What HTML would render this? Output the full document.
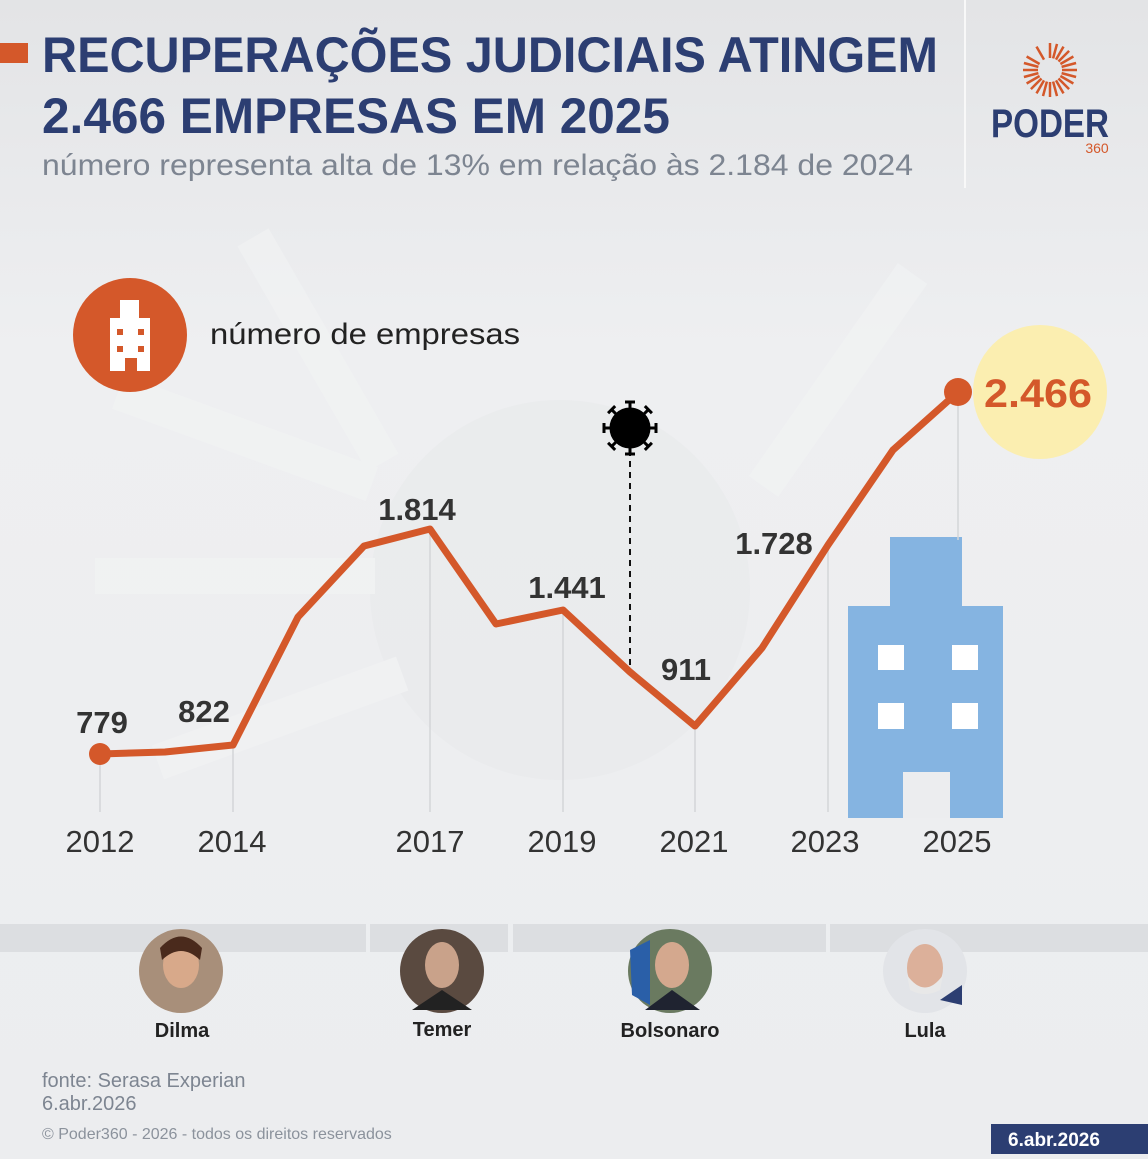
<!DOCTYPE html>
<html><head><meta charset="utf-8"><style>
html,body{margin:0;padding:0;}
body{width:1148px;height:1154px;overflow:hidden;background:#ecedef;font-family:"Liberation Sans",sans-serif;}
</style></head><body>
<svg width="1148" height="1154" viewBox="0 0 1148 1154" xmlns="http://www.w3.org/2000/svg" font-family="Liberation Sans, sans-serif">
<defs>
<linearGradient id="bg" x1="0" y1="0" x2="0" y2="1">
<stop offset="0" stop-color="#e3e4e6"/><stop offset="0.3" stop-color="#eeeff1"/><stop offset="1" stop-color="#ecedef"/>
</linearGradient>
</defs>
<rect width="1148" height="1154" fill="url(#bg)"/>
<!-- faint rays -->
<g fill="#f2f3f4" opacity="0.6">
<circle cx="560" cy="590" r="190" fill="#e8e9eb"/>
<rect x="95" y="558" width="280" height="36"/>
<rect x="110" y="420" width="270" height="36" transform="rotate(20 245 438)"/>
<rect x="300" y="220" width="36" height="260" transform="rotate(-30 318 350)"/>
<rect x="820" y="250" width="36" height="260" transform="rotate(35 838 380)"/>
<rect x="150" y="700" width="260" height="36" transform="rotate(-20 280 718)"/>
</g>
<!-- header -->
<rect x="0" y="43" width="28" height="20" fill="#d4582a"/>
<text x="42" y="72" font-size="50" font-weight="bold" fill="#2c3e72" textLength="896" lengthAdjust="spacingAndGlyphs">RECUPERAÇÕES JUDICIAIS ATINGEM</text>
<text x="42" y="133" font-size="50" font-weight="bold" fill="#2c3e72" textLength="628" lengthAdjust="spacingAndGlyphs">2.466 EMPRESAS EM 2025</text>
<text x="42" y="175" font-size="30" fill="#7d8591" textLength="871" lengthAdjust="spacingAndGlyphs">número representa alta de 13% em relação às 2.184 de 2024</text>
<rect x="964" y="0" width="2" height="188" fill="#f8f8f8"/>
<!-- logo -->
<g transform="translate(1050,70)" stroke="#d4582a" stroke-width="2.5">
<g id="r">
<line x1="0" y1="-12" x2="0" y2="-27"/>
</g>
<use href="#r" transform="rotate(15)"/><use href="#r" transform="rotate(30)"/><use href="#r" transform="rotate(45)"/><use href="#r" transform="rotate(60)"/><use href="#r" transform="rotate(75)"/><use href="#r" transform="rotate(90)"/><use href="#r" transform="rotate(105)"/><use href="#r" transform="rotate(120)"/><use href="#r" transform="rotate(135)"/><use href="#r" transform="rotate(150)"/><use href="#r" transform="rotate(165)"/><use href="#r" transform="rotate(180)"/><use href="#r" transform="rotate(195)"/><use href="#r" transform="rotate(210)"/><use href="#r" transform="rotate(225)"/><use href="#r" transform="rotate(240)"/><use href="#r" transform="rotate(255)"/><use href="#r" transform="rotate(270)"/><use href="#r" transform="rotate(285)"/><use href="#r" transform="rotate(300)"/><use href="#r" transform="rotate(330)"/>
</g>
<text x="1050" y="137" font-size="40" font-weight="bold" fill="#2c3e72" text-anchor="middle" textLength="118" lengthAdjust="spacingAndGlyphs">PODER</text>
<text x="1097" y="153" font-size="14" fill="#d4582a" text-anchor="middle">360</text>
<!-- legend icon -->
<circle cx="130" cy="335" r="57" fill="#d4582a"/>
<rect x="120" y="300" width="19" height="19" fill="#fff"/>
<rect x="110" y="318" width="40" height="53" fill="#fff"/>
<g fill="#d4582a"><rect x="117" y="329" width="6" height="6"/><rect x="138" y="329" width="6" height="6"/><rect x="117" y="346" width="6" height="6"/><rect x="138" y="346" width="6" height="6"/><rect x="125" y="358" width="12" height="13"/></g>
<text x="210" y="344" font-size="30" fill="#222" textLength="310" lengthAdjust="spacingAndGlyphs">número de empresas</text>
<!-- big building -->
<rect x="890" y="537" width="72" height="70" fill="#85b4e1"/>
<rect x="848" y="606" width="155" height="212" fill="#85b4e1"/>
<g fill="#fff"><rect x="878" y="645" width="26" height="25"/><rect x="952" y="645" width="26" height="25"/><rect x="878" y="703" width="26" height="26"/><rect x="952" y="703" width="26" height="26"/></g>
<rect x="903" y="772" width="47" height="46" fill="#ecedef"/>
<!-- grid lines -->
<g stroke="#d3d5d8" stroke-width="1.5">
<line x1="100" y1="754" x2="100" y2="812"/><line x1="233" y1="745" x2="233" y2="812"/><line x1="430" y1="529" x2="430" y2="812"/><line x1="563" y1="610" x2="563" y2="812"/><line x1="695" y1="726" x2="695" y2="812"/><line x1="828" y1="545" x2="828" y2="812"/><line x1="958" y1="392" x2="958" y2="540"/>
</g>
<!-- virus -->
<line x1="630" y1="450" x2="630" y2="672" stroke="#111" stroke-width="2" stroke-dasharray="6,5"/>
<g transform="translate(630,428)" stroke="#000" stroke-width="3">
<circle r="19" fill="#000"/>
<g id="sp"><line x1="0" y1="-19" x2="0" y2="-26"/><line x1="-5" y1="-26" x2="5" y2="-26"/></g>
<use href="#sp" transform="rotate(45)"/><use href="#sp" transform="rotate(90)"/><use href="#sp" transform="rotate(135)"/><use href="#sp" transform="rotate(180)"/><use href="#sp" transform="rotate(225)"/><use href="#sp" transform="rotate(270)"/><use href="#sp" transform="rotate(315)"/>
</g>
<!-- yellow circle -->
<circle cx="1040" cy="392" r="67" fill="#fbeeb0"/>
<!-- line -->
<polyline points="100,754 165,752 233,745 298,617 364,546 430,529 496,624 563,610 630,672 695,726 762,648 828,545 893,450 958,392" fill="none" stroke="#d4582a" stroke-width="7" stroke-linejoin="round" stroke-linecap="round"/>
<circle cx="100" cy="754" r="11" fill="#d4582a"/>
<circle cx="958" cy="392" r="14" fill="#d4582a"/>
<!-- value labels -->
<g font-size="31" font-weight="bold" fill="#333" text-anchor="middle">
<text x="102" y="733">779</text><text x="204" y="722">822</text><text x="417" y="520">1.814</text><text x="567" y="598">1.441</text><text x="686" y="680">911</text><text x="774" y="554">1.728</text>
</g>
<text x="984" y="407" font-size="40" font-weight="bold" fill="#d4582a" textLength="108" lengthAdjust="spacingAndGlyphs">2.466</text>
<!-- years -->
<g font-size="31" fill="#333" text-anchor="middle">
<text x="100" y="852">2012</text><text x="232" y="852">2014</text><text x="430" y="852">2017</text><text x="562" y="852">2019</text><text x="694" y="852">2021</text><text x="825" y="852">2023</text><text x="957" y="852">2025</text>
</g>
<!-- bands -->
<g fill="#dcdee1">
<rect x="0" y="924" width="366" height="28"/><rect x="370" y="924" width="138" height="28"/><rect x="513" y="924" width="313" height="28"/><rect x="830" y="924" width="318" height="28"/>
</g>
<!-- portraits -->
<g>
<circle cx="181" cy="971" r="42" fill="#a88f7a"/><ellipse cx="181" cy="965" rx="18" ry="23" fill="#d8a98a"/><path d="M160 948 Q181 925 202 948 L200 960 Q181 942 162 960Z" fill="#4a2a1c"/>
<circle cx="442" cy="971" r="42" fill="#5a4a40"/><ellipse cx="442" cy="965" rx="17" ry="23" fill="#c9a28a"/><path d="M412 1010 L442 990 L472 1010Z" fill="#222"/>
<circle cx="670" cy="971" r="42" fill="#6a7a60"/><path d="M630 950 L650 940 L650 1005 L632 995Z" fill="#2a5fa8"/><ellipse cx="672" cy="965" rx="17" ry="23" fill="#d4a88e"/><path d="M645 1010 L672 990 L700 1010Z" fill="#1f2330"/>
<circle cx="925" cy="971" r="42" fill="#e2e4e8"/><ellipse cx="925" cy="968" rx="18" ry="24" fill="#dcb09a"/><path d="M907 975 Q925 1000 943 975 L940 990 Q925 998 910 990Z" fill="#e8e8e8"/><path d="M940 1000 L962 985 L962 1005Z" fill="#2c3e72"/>
</g>
<g font-size="20" font-weight="bold" fill="#222" text-anchor="middle">
<text x="182" y="1037">Dilma</text><text x="442" y="1036">Temer</text><text x="670" y="1037">Bolsonaro</text><text x="925" y="1037">Lula</text>
</g>
<!-- footer -->
<text x="42" y="1087" font-size="20" fill="#7d8591">fonte: Serasa Experian</text>
<text x="42" y="1110" font-size="20" fill="#7d8591">6.abr.2026</text>
<text x="42" y="1139" font-size="16" fill="#8b929c">© Poder360 - 2026 - todos os direitos reservados</text>
<rect x="991" y="1124" width="157" height="30" fill="#2c3e72"/>
<text x="1054" y="1146" font-size="19" font-weight="bold" fill="#fff" text-anchor="middle">6.abr.2026</text>
</svg>
</body></html>
